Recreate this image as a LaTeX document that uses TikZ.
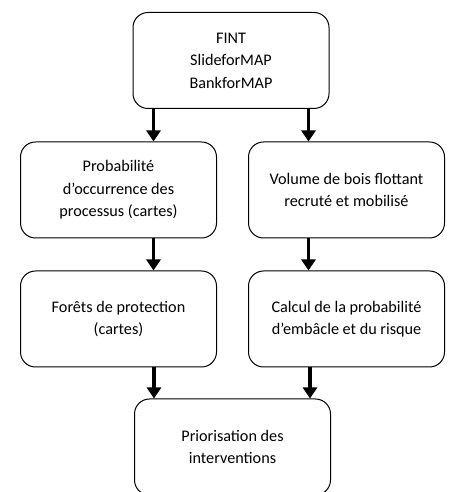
\documentclass[tikz,border=0pt]{standalone}
\usepackage{fontspec}
\setmainfont{Carlito}
\usetikzlibrary{arrows.meta}
\tikzset{
    every node/.style={rectangle, rounded corners=15pt, draw, line width=1pt, align=center,
        minimum width=196pt, minimum height=96pt, font=\fontsize{16.2}{22.5}\selectfont}
}
\tikzset{flow/.style={line width=3.5pt, -{Triangle[width=14pt,length=11pt]}}}

\begin{document}
\begin{tikzpicture}[x=1pt, y=1pt]
        \useasboundingbox (0,0) rectangle (449,492);
        \node (v0) at (231, 431.5) {FINT\\SlideforMAP\\BankforMAP};
        \node (v1) at (118.5, 302) {Probabilité\\d’occurrence des\\processus (cartes)};
        \node (v2) at (346.5, 302) {Volume de bois flottant\\recruté et mobilisé};
        \node (v3) at (118.5, 173) {Forêts de protection\\(cartes)};
        \node (v4) at (346.5, 173) {Calcul de la probabilité\\d’embâcle et du risque};
        \node (v5) at (232.5, 45) {Priorisation des\\interventions};
        \draw [flow] ([xshift=21pt]v0.south west) -- ([xshift=21pt]v0.south west |- v1.north);
        \draw [flow] ([xshift=-21pt]v0.south east) -- ([xshift=-21pt]v0.south east |- v2.north);
        \draw [flow] ([xshift=21pt]v0.south west |- v1.south) -- ([xshift=21pt]v0.south west |- v3.north);
        \draw [flow] ([xshift=-21pt]v0.south east |- v2.south) -- ([xshift=-21pt]v0.south east |- v4.north);
        \draw [flow] ([xshift=20pt]v5.north west |- v3.south) -- ([xshift=20pt]v5.north west);
        \draw [flow] ([xshift=-21pt]v5.north east |- v4.south) -- ([xshift=-21pt]v5.north east);
\end{tikzpicture}
\end{document}
